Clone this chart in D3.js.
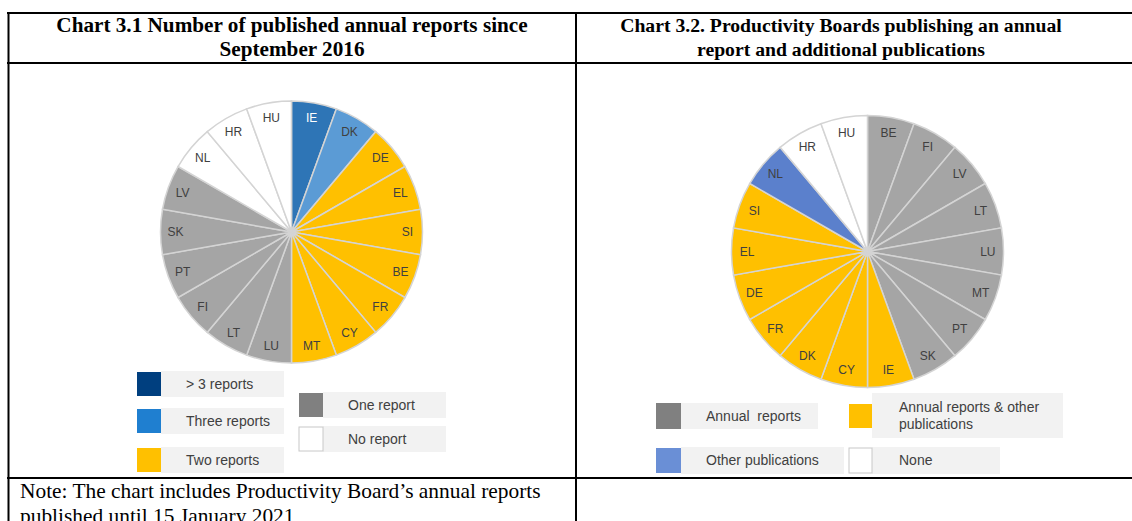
<!DOCTYPE html>
<html>
<head>
<meta charset="utf-8">
<script src="https://cdn.jsdelivr.net/npm/d3@7"></script>
<style>
	body { margin: 0; background: #fff; }
	svg { display: block; }
	.title { font-family: "Liberation Serif", "Times New Roman", serif; font-weight: bold; font-size: 21.2px; fill: #000; }
	.title.right { font-size: 19.7px; }
	.note { font-family: "Liberation Serif", "Times New Roman", serif; font-size: 21.4px; fill: #000; }
	.slice-label { font-family: "Liberation Sans", Arial, sans-serif; font-size: 12px; fill: #404040; }
	.legend-label { font-family: "Liberation Sans", Arial, sans-serif; font-size: 14px; fill: #404040; white-space: pre; }
</style>
</head>
<body>
<div id="app"></div>
<script>
///////////////////////////////////////////////////////////////////////////
//////////////////////////// data /////////////////////////////////////////
///////////////////////////////////////////////////////////////////////////

// chart 3.1 - clockwise from 12 o'clock, one slice per country
const leftCountries = ["IE", "DK", "DE", "EL", "SI", "BE", "FR", "CY", "MT", "LU", "LT", "FI", "PT", "SK", "LV", "NL", "HR", "HU"];
const leftStatus = [
	"> 3 reports", "Three reports",
	"Two reports", "Two reports", "Two reports", "Two reports", "Two reports", "Two reports", "Two reports",
	"One report", "One report", "One report", "One report", "One report", "One report",
	"No report", "No report", "No report"
];
const leftCategories = ["> 3 reports", "Three reports", "Two reports", "One report", "No report"];

// chart 3.2
const rightCountries = ["BE", "FI", "LV", "LT", "LU", "MT", "PT", "SK", "IE", "CY", "DK", "FR", "DE", "EL", "SI", "NL", "HR", "HU"];
const rightStatus = [
	"Annual  reports", "Annual  reports", "Annual  reports", "Annual  reports", "Annual  reports", "Annual  reports", "Annual  reports", "Annual  reports",
	"Annual reports & other publications", "Annual reports & other publications", "Annual reports & other publications",
	"Annual reports & other publications", "Annual reports & other publications", "Annual reports & other publications",
	"Annual reports & other publications",
	"Other publications",
	"None", "None"
];
const rightCategories = ["Annual  reports", "Annual reports & other publications", "Other publications", "None"];

const titles = [
	["Chart 3.1 Number of published annual reports since", "September 2016"],
	["Chart 3.2. Productivity Boards publishing an annual", "report and additional publications"]
];
const noteLines = ["Note: The chart includes Productivity Board\u2019s annual reports", "published until 15 January 2021"];

///////////////////////////////////////////////////////////////////////////
//////////////////////////// drawing //////////////////////////////////////
///////////////////////////////////////////////////////////////////////////

const width = 1132;
const height = 521;

const svg = d3.select("#app").append("svg")
	.attr("width", width)
	.attr("height", height);

svg.append("rect").attr("width", width).attr("height", height).attr("fill", "#fff");

//////////////////////////// colors ///////////////////////////////////////

const leftSliceColor = d3.scaleOrdinal()
	.domain(leftCategories)
	.range(["#2e75b6", "#5b9bd5", "#ffc000", "#a5a5a5", "#ffffff"]);
const leftLegendColor = d3.scaleOrdinal()
	.domain(leftCategories)
	.range(["#003f7f", "#1f7fd0", "#ffc000", "#808080", "#ffffff"]);

const rightSliceColor = d3.scaleOrdinal()
	.domain(rightCategories)
	.range(["#a5a5a5", "#ffc000", "#5b80cc", "#ffffff"]);
const rightLegendColor = d3.scaleOrdinal()
	.domain(rightCategories)
	.range(["#808080", "#ffc000", "#6a8fd6", "#ffffff"]);

//////////////////////////// pies /////////////////////////////////////////

const pie = d3.pie().sort(null).value(() => 1);

const drawPie = (countries, status, color, cx, cy, radius) => {
	const rows = countries.map((c, i) => ({ country: c, status: status[i] }));
	const arcs = pie(rows);
	const arc = d3.arc().innerRadius(0).outerRadius(radius);
	const labelArc = d3.arc().innerRadius(radius * 0.885).outerRadius(radius * 0.885);

	const g = svg.append("g").attr("transform", `translate(${cx},${cy})`);

	g.selectAll("path")
		.data(arcs)
		.join("path")
		.attr("d", arc)
		.attr("fill", (d) => color(d.data.status))
		.attr("stroke", "#d4d4d4")
		.attr("stroke-width", 1.5);

	g.selectAll("text")
		.data(arcs)
		.join("text")
		.attr("class", "slice-label")
		.attr("transform", (d) => `translate(${labelArc.centroid(d)})`)
		.attr("text-anchor", "middle")
		.attr("dy", "0.35em")
		.style("fill", (d) => (d.data.status === "> 3 reports" ? "#ffffff" : "#404040"))
		.text((d) => d.data.country);
};

drawPie(leftCountries, leftStatus, leftSliceColor, 291.5, 232, 131);
drawPie(rightCountries, rightStatus, rightSliceColor, 867.5, 251.5, 136);

//////////////////////////// legends //////////////////////////////////////

// box: swatch position, label panel and text lines
const legendItem = (cat, color, sx, sy, sw, sh, px, py, pw, ph, tx, lines) => {
	const g = svg.append("g").attr("class", "legend");
	g.append("rect")
		.attr("x", px).attr("y", py).attr("width", pw).attr("height", ph)
		.attr("fill", "#f2f2f2");
	g.append("rect")
		.attr("x", sx).attr("y", sy).attr("width", sw).attr("height", sh)
		.attr("fill", color(cat))
		.attr("stroke", cat === "No report" || cat === "None" ? "#c8c8c8" : "none")
		.attr("stroke-width", 1);
	const t = g.append("text").attr("class", "legend-label").attr("x", tx);
	const y0 = py + ph / 2 - ((lines.length - 1) * 17) / 2;
	lines.forEach((l, i) => {
		t.append("tspan").attr("x", tx).attr("y", y0 + i * 17).attr("dy", "0.35em").text(l);
	});
};

legendItem(leftCategories[0], leftLegendColor, 137, 372, 24, 24, 161, 371, 123, 26, 186, ["> 3 reports"]);
legendItem(leftCategories[1], leftLegendColor, 137, 409, 24, 24, 161, 408, 123, 26, 186, ["Three reports"]);
legendItem(leftCategories[2], leftLegendColor, 137, 448, 24, 24, 161, 447, 123, 26, 186, ["Two reports"]);
legendItem(leftCategories[3], leftLegendColor, 299, 393, 24, 24, 323, 392, 123, 26, 348, ["One report"]);
legendItem(leftCategories[4], leftLegendColor, 299, 427, 24, 24, 323, 426, 123, 26, 348, ["No report"]);

legendItem(rightCategories[0], rightLegendColor, 656, 403, 25, 26, 681, 403, 137, 26, 706, ["Annual  reports"]);
legendItem(rightCategories[1], rightLegendColor, 849, 404, 23, 24, 872, 393, 191, 45, 899, ["Annual reports & other", "publications"]);
legendItem(rightCategories[2], rightLegendColor, 656, 448, 25, 25, 681, 447, 163, 27, 706, ["Other publications"]);
legendItem(rightCategories[3], rightLegendColor, 849, 448, 23, 25, 872, 447, 128, 27, 899, ["None"]);

//////////////////////////// table frame //////////////////////////////////

const frame = svg.append("g").attr("stroke", "#000").attr("stroke-width", 2);
frame.append("line").attr("x1", 7).attr("x2", width).attr("y1", 13).attr("y2", 13);
frame.append("line").attr("x1", 7).attr("x2", width).attr("y1", 63).attr("y2", 63);
frame.append("line").attr("x1", 7).attr("x2", width).attr("y1", 478).attr("y2", 478);
frame.append("line").attr("x1", 8.5).attr("x2", 8.5).attr("y1", 12).attr("y2", height);
frame.append("line").attr("x1", 576).attr("x2", 576).attr("y1", 12).attr("y2", height);

//////////////////////////// titles ///////////////////////////////////////

[292, 841].forEach((cx, i) => {
	titles[i].forEach((line, j) => {
		svg.append("text")
			.attr("class", i === 0 ? "title" : "title right")
			.attr("x", cx)
			.attr("y", 32 + j * 24)
			.attr("text-anchor", "middle")
			.text(line);
	});
});

noteLines.forEach((line, j) => {
	svg.append("text")
		.attr("class", "note")
		.attr("x", 20)
		.attr("y", 498 + j * 25)
		.text(line);
});
</script>
</body>
</html>
